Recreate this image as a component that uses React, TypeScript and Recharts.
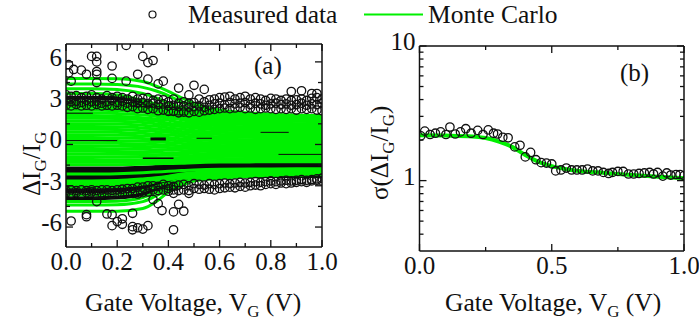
import React from "react";
import { ComposedChart, Line, Scatter, XAxis, YAxis } from "recharts";

const FONT = "'Liberation Serif', 'Times New Roman', serif";
const GREEN = "#00f000";

// panel (a): Monte Carlo curves, values at these gate voltages
const mcGrid = [0, 0.1, 0.2, 0.3, 0.35, 0.4, 0.45, 0.5, 0.6, 0.8, 1];
const mcCurves = [
  [4.8, 4.8, 4.78, 4.57, 4.25, 3.85, 3.4, 3.0, 2.5, 2.2, 2.1],
  [4.4, 4.4, 4.35, 4.15, 3.9, 3.55, 3.1, 2.8, 2.4, 2.15, 2.05],
  [4.05, 4.05, 4.0, 3.7, 3.4, 3.0, 2.7, 2.5, 2.25, 2.1, 2.0],
  [3.7, 3.7, 3.6, 3.2, 2.95, 2.7, 2.5, 2.35, 2.15, 2.05, 1.95],
  [3.1, 3.1, 3.05, 2.9, 2.75, 2.6, 2.4, 2.25, 2.05, 1.95, 1.9],
  [2.9, 2.9, 2.85, 2.7, 2.55, 2.4, 2.25, 2.1, 1.95, 1.85, 1.8],
  [2.7, 2.7, 2.65, 2.5, 2.4, 2.25, 2.1, 1.95, 1.8, 1.7, 1.65],
  [2.5, 2.5, 2.45, 2.35, 2.2, 2.05, 1.95, 1.8, 1.65, 1.55, 1.5],
  [2.3, 2.3, 2.25, 2.15, 2.05, 1.9, 1.8, 1.65, 1.5, 1.4, 1.35],
  [2.1, 2.1, 2.05, 1.95, 1.85, 1.75, 1.6, 1.5, 1.35, 1.25, 1.2],
  [1.9, 1.9, 1.88, 1.78, 1.7, 1.55, 1.45, 1.35, 1.2, 1.1, 1.05],
  [1.7, 1.7, 1.68, 1.6, 1.5, 1.4, 1.3, 1.2, 1.05, 0.95, 0.9],
  [1.5, 1.5, 1.48, 1.4, 1.32, 1.22, 1.12, 1.02, 0.88, 0.8, 0.75],
  [1.3, 1.3, 1.28, 1.2, 1.12, 1.05, 0.95, 0.85, 0.72, 0.65, 0.6],
  [1.1, 1.1, 1.08, 1.0, 0.95, 0.88, 0.78, 0.7, 0.56, 0.5, 0.45],
  [0.9, 0.9, 0.88, 0.82, 0.75, 0.7, 0.6, 0.52, 0.4, 0.33, 0.3],
  [0.7, 0.7, 0.68, 0.62, 0.58, 0.5, 0.42, 0.35, 0.24, 0.18, 0.15],
  [0.5, 0.5, 0.48, 0.44, 0.38, 0.32, 0.25, 0.18, 0.08, 0.02, 0],
  [0.3, 0.3, 0.28, 0.24, 0.2, 0.14, 0.08, 0.02, -0.08, -0.13, -0.15],
  [0.1, 0.1, 0.08, 0.04, 0.0, -0.04, -0.1, -0.15, -0.23, -0.28, -0.3],
  [-0.1, -0.1, -0.12, -0.15, -0.18, -0.22, -0.27, -0.32, -0.38, -0.43, -0.45],
  [-0.3, -0.3, -0.32, -0.34, -0.38, -0.4, -0.44, -0.48, -0.54, -0.58, -0.6],
  [-0.5, -0.5, -0.52, -0.54, -0.56, -0.6, -0.62, -0.65, -0.7, -0.73, -0.75],
  [-0.7, -0.7, -0.71, -0.73, -0.75, -0.78, -0.8, -0.82, -0.86, -0.88, -0.9],
  [-0.9, -0.9, -0.91, -0.92, -0.94, -0.96, -0.97, -0.99, -1.02, -1.04, -1.05],
  [-1.1, -1.1, -1.11, -1.12, -1.13, -1.14, -1.15, -1.16, -1.18, -1.19, -1.2],
  [-1.3, -1.3, -1.3, -1.3, -1.28, -1.27, -1.26, -1.25, -1.24, -1.24, -1.23],
  [-1.47, -1.47, -1.47, -1.44, -1.4, -1.38, -1.36, -1.32, -1.28, -1.26, -1.25],
  [-2.15, -2.15, -2.12, -2.05, -2.0, -1.95, -1.9, -1.85, -1.8, -1.78, -1.76],
  [-2.65, -2.65, -2.62, -2.5, -2.42, -2.3, -2.15, -2.05, -1.92, -1.87, -1.85],
  [-2.8, -2.8, -2.76, -2.62, -2.5, -2.38, -2.22, -2.1, -1.98, -1.95, -1.93],
  [-2.95, -2.95, -2.9, -2.75, -2.62, -2.46, -2.3, -2.18, -2.05, -2.02, -2.0],
  [-3.1, -3.1, -3.05, -2.88, -2.72, -2.55, -2.38, -2.24, -2.1, -2.07, -2.05],
  [-3.65, -3.65, -3.6, -3.35, -3.08, -2.8, -2.55, -2.35, -2.18, -2.12, -2.1],
  [-4.15, -4.15, -4.12, -3.85, -3.5, -3.12, -2.78, -2.5, -2.28, -2.17, -2.15],
  [-4.4, -4.4, -4.38, -4.15, -3.75, -3.28, -2.9, -2.58, -2.36, -2.2, -2.18],
  [-4.85, -4.85, -4.85, -4.65, -4.18, -3.45, -3.0, -2.65, -2.45, -2.25, -2.2],
];

// panel (a): the dark traces left where measured points pile up under the green
const denseTraces = [
  [-1.85, -1.85, -1.85, -1.8, -1.75, -1.7, -1.62, -1.55, -1.48, -1.46, -1.46],
  [-2.4, -2.4, -2.36, -2.25, -2.16, -2.06, -1.96, -1.88, -1.84, -1.8, -1.8],
  [-3.35, -3.35, -3.3, -3.1, -2.9, -2.65, -2.45, -2.3, -2.2, -2.18, -2.15],
  [-3.9, -3.9, -3.85, -3.6, -3.3, -2.95, -2.66, -2.44, -2.32, -2.3, -2.3],
  [3.4, 3.4, 3.35, 3.1, 2.9, 2.7, 2.5, 2.35, 2.2, 2.1, 2.05],
];
const denseWidths = [7, 6, 5, 4, 4];

// panel (a): short dark slivers between green curves [from, to, value]
const slivers = [
  [0, 0.105, 2.27], [0.26, 0.34, 2.75], [0.39, 0.47, 2.15], [0.33, 0.39, 0.4], [0.51, 0.57, 0.45],
  [0.76, 0.87, 0.88], [0.83, 1, -0.72], [0, 0.2, 0.28], [0.3, 0.42, -1.0],
];
const sliverWidths = [1, 1, 1, 3, 1, 1, 1, 1, 1.5];

// panel (a): measured points, outliers read one by one
const measuredUpper = [
  [0.01, 5.8], [0.03, 5.45], [0.06, 5.4], [0.08, 5.1], [0.1, 6.4], [0.12, 6.4], [0.12, 6.0], [0.12, 5.3],
  [0.12, 5.1], [0.12, 4.5], [0.18, 5.7], [0.18, 4.8], [0.235, 7.2], [0.235, 4.6], [0.28, 5.1], [0.3, 6.4],
  [0.32, 5.95], [0.32, 4.75], [0.34, 6.1], [0.36, 4.4], [0.38, 4.6], [0.44, 4.1], [0.48, 3.6], [0.5, 4.3],
  [0.54, 4.0], [0.88, 3.85], [0.92, 3.9], [0.96, 3.7], [0.98, 3.7], [0.01, 5.2], [0.02, 4.6],
];
const measuredLower = [
  [0.02, -5.56], [0.08, -5.1], [0.08, -5.25], [0.12, -4.15], [0.16, -5.05], [0.18, -5.1], [0.18, -5.9],
  [0.2, -5.6], [0.22, -5.4], [0.22, -5.8], [0.26, -5.0], [0.26, -5.97], [0.26, -6.2], [0.28, -6.05],
  [0.3, -6.15], [0.32, -5.9], [0.34, -4.0], [0.36, -4.3], [0.375, -4.8], [0.4, -3.2], [0.42, -3.55],
  [0.42, -4.9], [0.42, -6.2], [0.44, -4.35], [0.46, -4.85], [0.48, -3.35],
];

// panel (a): dense rows of measured points
const measuredGrid = [
  0, 0.02, 0.04, 0.06, 0.08, 0.1, 0.12, 0.14, 0.16, 0.18, 0.2, 0.22, 0.24, 0.26, 0.28, 0.3, 0.32, 0.34, 0.36, 0.38,
  0.4, 0.42, 0.44, 0.46, 0.48, 0.5, 0.52, 0.54, 0.56, 0.58, 0.6, 0.62, 0.64, 0.66, 0.68, 0.7, 0.72, 0.74, 0.76, 0.78,
  0.8, 0.82, 0.84, 0.86, 0.88, 0.9, 0.92, 0.94, 0.96, 0.98, 1,
];
const upperRow1 = [
  3.6, 3.5, 3.55, 3.4, 3.5, 3.6, 3.4, 3.3, 3.55, 3.4, 3.5, 3.4, 3.3, 3.5, 3.3, 3.35, 3.4, 3.2, 3.3, 3.25,
  3.1, 3.3, 3.0, 3.1, 3.0, 3.05, 3.3, 3.1, 3.25, 3.3, 3.4, 3.45, 3.5, 3.3, 3.4, 3.5, 3.3, 3.4, 3.3, 3.2,
  3.35, 3.3, 3.2, 3.3, 3.2, 3.25, 3.3, 3.2, 3.35, 3.4, 3.3,
];
const upperRow2 = [
  3.2, 3.1, 3.15, 3.05, 3.2, 3.1, 3.15, 3.0, 3.1, 3.2, 3.05, 3.15, 3.0, 3.1, 3.0, 3.05, 2.95, 3.0, 2.9, 2.95,
  2.8, 2.85, 2.75, 2.8, 2.7, 2.75, 2.8, 2.7, 2.85, 2.95, 3.0, 2.9, 3.05, 2.95, 3.0, 3.05, 2.9, 3.0, 2.95, 2.85,
  2.95, 3.0, 2.9, 2.95, 2.85, 2.9, 3.0, 2.85, 2.95, 2.9, 3.0,
];
const upperRow3 = [
  2.85, 2.8, 2.9, 2.8, 2.85, 2.8, 2.9, 2.8, 2.85, 2.8, 2.85, 2.8, 2.7, 2.75, 2.6, 2.65, 2.55, 2.6, 2.45, 2.5,
  2.4, 2.4, 2.3, 2.35, 2.3, 2.4, 2.35, 2.45, 2.5, 2.55, 2.6, 2.65, 2.6, 2.65, 2.7, 2.6, 2.65, 2.55, 2.6, 2.65,
  2.6, 2.55, 2.6, 2.55, 2.6, 2.5, 2.6, 2.55, 2.6, 2.5, 2.45,
];
const lowerRow1 = [
  -3.5, -3.55, -3.5, -3.6, -3.5, -3.45, -3.6, -3.55, -3.5, -3.6, -3.5, -3.6, -3.5, -3.55, -3.6, -3.5, -3.45, -3.3, -3.35, -3.3,
  -3.4, -3.3, -3.35, -3.3, -3.55, -3.2, -3.25, -3.2, -3.25, -3.3, -3.2, -3.15, -3.1, -3.15, -3.05, -3.1, -3.0, -2.95, -3.0, -2.9,
  -2.85, -2.9, -2.8, -2.85, -2.8, -2.75, -2.7, -2.75, -2.65, -2.6, -2.65,
];
const lowerRow2 = [
  -3.35, -3.3, -3.35, -3.3, -3.35, -3.3, -3.35, -3.3, -3.3, -3.35, -3.3, -3.25, -3.2, -3.2, -3.1, -3.1, -3.0, -3.0, -3.05, -2.9,
  -3.0, -3.05, -2.95, -2.9, -3.0, -2.85, -2.9, -2.95, -2.85, -2.9, -2.85, -2.8, -2.85, -2.8, -2.75, -2.8, -2.75, -2.7, -2.75, -2.7,
  -2.65, -2.7, -2.65, -2.6, -2.65, -2.6, -2.55, -2.6, -2.55, -2.5, -2.45,
];
const measuredRows = [upperRow1, upperRow2, upperRow3, lowerRow1, lowerRow2];

// panel (b): standard deviation
const sigmaGrid = [0, 0.1, 0.2, 0.25, 0.3, 0.35, 0.4, 0.45, 0.5, 0.55, 0.6, 0.7, 0.8, 0.9, 1];
const sigmaMC = [2.17, 2.16, 2.13, 2.07, 1.95, 1.78, 1.55, 1.38, 1.28, 1.22, 1.18, 1.14, 1.1, 1.07, 1.04];
const sigmaMeasured = [
  [0.005, 2.15], [0.02, 2.33], [0.04, 2.2], [0.06, 2.25], [0.08, 2.3], [0.1, 2.2], [0.115, 2.5], [0.135, 2.22],
  [0.155, 2.3], [0.175, 2.43], [0.195, 2.25], [0.22, 2.36], [0.24, 2.2], [0.26, 2.38], [0.28, 2.25], [0.295, 2.22],
  [0.315, 2.1], [0.335, 2.08], [0.36, 1.78], [0.38, 1.83], [0.4, 1.5], [0.42, 1.62], [0.44, 1.43], [0.46, 1.36],
  [0.48, 1.35], [0.5, 1.33], [0.515, 1.18], [0.535, 1.2], [0.555, 1.24], [0.575, 1.2], [0.595, 1.2], [0.615, 1.2],
  [0.635, 1.22], [0.655, 1.18], [0.675, 1.18], [0.695, 1.15], [0.715, 1.13], [0.73, 1.15], [0.75, 1.17], [0.77, 1.17],
  [0.79, 1.12], [0.81, 1.12], [0.83, 1.13], [0.85, 1.14], [0.87, 1.15], [0.885, 1.12], [0.9, 1.15], [0.92, 1.08],
  [0.935, 1.14], [0.95, 1.1], [0.97, 1.11], [0.985, 1.11], [1, 1.09],
];

const xTicksA = [0, 0.1, 0.2, 0.3, 0.4, 0.5, 0.6, 0.7, 0.8, 0.9, 1];
const xLabelsA = [0, 0.2, 0.4, 0.6, 0.8, 1];
const yTicksA = [-6, -4.5, -3, -1.5, 0, 1.5, 3, 4.5, 6];
const yLabelsA = [-6, -3, 0, 3, 6];
const xTicksB = [0, 0.25, 0.5, 0.75, 1];
const xLabelsB = [0, 0.5, 1];
const yTicksB = [0.4, 0.5, 0.6, 0.7, 0.8, 0.9, 1, 2, 3, 4, 5, 6, 7, 8, 9, 10];
const yMajorB = [1, 10];

const tableA = mcGrid.map((v, i) => {
  const row: Record<string, number> = { v };
  mcCurves.forEach((c, k) => (row["mc" + k] = c[i]));
  denseTraces.forEach((c, k) => (row["dense" + k] = c[i]));
  return row;
});
const scatterA = [
  ...measuredUpper.map(([v, y]) => ({ v, y })),
  ...measuredLower.map(([v, y]) => ({ v, y })),
  ...measuredRows.flatMap((r) => r.map((y, i) => ({ v: measuredGrid[i], y }))),
];
const tableB = sigmaGrid.map((v, i) => ({ v, mc: sigmaMC[i] }));
const scatterB = sigmaMeasured.map(([v, y]) => ({ v, y }));

const Ring = (p: any) => <circle cx={p.cx} cy={p.cy} r={4.2} fill="none" stroke="#111" strokeWidth={1.3} />;

const XTick = ({ x, y, payload, labels, side, fmt }: any) => {
  const major = labels.includes(payload.value);
  const len = major ? 7 : 4;
  return (
    <g>
      <line x1={x} x2={x} y1={y} y2={side === "bottom" ? y - len : y + len} stroke="#111" strokeWidth={1.3} />
      {side === "bottom" && major && (
        <text x={x} y={y + 23} textAnchor="middle" fontFamily={FONT} fontSize={25} fill="#111">
          {fmt(payload.value)}
        </text>
      )}
    </g>
  );
};

const YTick = ({ x, y, payload, labels, side, major, fmt }: any) => {
  const isMajor = major.includes(payload.value);
  const len = isMajor ? 7 : 4;
  return (
    <g>
      <line x1={x} x2={side === "left" ? x + len : x - len} y1={y} y2={y} stroke="#111" strokeWidth={1.3} />
      {side === "left" && labels.includes(payload.value) && (
        <text x={x - 4} y={y + 4} textAnchor="end" fontFamily={FONT} fontSize={25} fill="#111">
          {fmt(payload.value)}
        </text>
      )}
    </g>
  );
};

const GateLabel = ({ x, y }: { x: number; y: number }) => (
  <text x={x} y={y} fontFamily={FONT} fontSize={25.5} fill="#111">
    Gate Voltage, V
    <tspan fontSize={17} dy={6}>G</tspan>
    <tspan dy={-6}> (V)</tspan>
  </text>
);

const axisProps = { type: "number" as const, allowDataOverflow: true, stroke: "#111", strokeWidth: 1.5, tickLine: false, tickSize: 0, tickMargin: 0, interval: 0 as const };

function PanelA() {
  return (
    <ComposedChart width={350} height={329} data={tableA} margin={{ top: 0, right: 0, bottom: 0, left: 0 }}>
      <XAxis {...axisProps} dataKey="v" domain={[0, 1]} ticks={xTicksA} height={82}
        tick={(p: any) => <XTick {...p} labels={xLabelsA} side="bottom" fmt={(v: number) => v.toFixed(1)} />} />
      <XAxis {...axisProps} xAxisId="top" orientation="top" dataKey="v" domain={[0, 1]} ticks={xTicksA} height={44}
        tick={(p: any) => <XTick {...p} labels={xLabelsA} side="top" fmt={String} />} />
      <YAxis {...axisProps} dataKey="y" domain={[-7.45, 7.3]} ticks={yTicksA} width={66}
        tick={(p: any) => <YTick {...p} labels={yLabelsA} major={yLabelsA} side="left" fmt={String} />} />
      <YAxis {...axisProps} yAxisId="right" orientation="right" domain={[-7.45, 7.3]} ticks={yTicksA} width={28}
        tick={(p: any) => <YTick {...p} labels={yLabelsA} major={yLabelsA} side="right" fmt={String} />} />
      <Scatter data={scatterA} dataKey="y" shape={Ring} isAnimationActive={false} />
      {denseTraces.map((_, k) => (
        <Line key={k} dataKey={"dense" + k} type="monotone" stroke="#0a0a0a" strokeWidth={denseWidths[k]} dot={false} isAnimationActive={false} />
      ))}
      {mcCurves.map((_, k) => (
        <Line key={k} dataKey={"mc" + k} type="monotone" stroke={GREEN} strokeWidth={3} dot={false} isAnimationActive={false} />
      ))}
      {slivers.map(([from, to, y], k) => (
        <Line key={k} data={[{ v: from, y }, { v: to, y }]} dataKey="y" stroke="#0a0a0a" strokeWidth={sliverWidths[k]} dot={false} isAnimationActive={false} />
      ))}
      <text x={254} y={74} fontFamily={FONT} fontSize={25} fill="#111">(a)</text>
      <GateLabel x={85} y={311} />
      <text transform="translate(40,196) rotate(-90)" fontFamily={FONT} fontSize={25} fill="#111">
        ΔI
        <tspan fontSize={17} dy={6}>G</tspan>
        <tspan dy={-6}>/I</tspan>
        <tspan fontSize={17} dy={6}>G</tspan>
      </text>
    </ComposedChart>
  );
}

function PanelB() {
  return (
    <ComposedChart width={349} height={329} data={tableB} margin={{ top: 0, right: 0, bottom: 0, left: 0 }}>
      <XAxis {...axisProps} dataKey="v" domain={[0, 1]} ticks={xTicksB} height={78}
        tick={(p: any) => <XTick {...p} labels={xLabelsB} side="bottom" fmt={(v: number) => v.toFixed(1)} />} />
      <XAxis {...axisProps} xAxisId="top" orientation="top" dataKey="v" domain={[0, 1]} ticks={xTicksB} height={46}
        tick={(p: any) => <XTick {...p} labels={xLabelsB} side="top" fmt={String} />} />
      <YAxis {...axisProps} dataKey="y" scale="log" domain={[0.3, 10]} ticks={yTicksB} width={69.5}
        tick={(p: any) => <YTick {...p} labels={yMajorB} major={yMajorB} side="left" fmt={String} />} />
      <YAxis {...axisProps} yAxisId="right" orientation="right" scale="log" domain={[0.3, 10]} ticks={yTicksB} width={15}
        tick={(p: any) => <YTick {...p} labels={yMajorB} major={yMajorB} side="right" fmt={String} />} />
      <Scatter data={scatterB} dataKey="y" shape={Ring} isAnimationActive={false} />
      <Line dataKey="mc" type="monotone" stroke={GREEN} strokeWidth={4} dot={false} isAnimationActive={false} />
      <text x={270} y={81} fontFamily={FONT} fontSize={25} fill="#111">(b)</text>
      <GateLabel x={95} y={311} />
      <text transform="translate(38,200) rotate(-90)" fontFamily={FONT} fontSize={25} fill="#111">
        σ(ΔI
        <tspan fontSize={17} dy={6}>G</tspan>
        <tspan dy={-6}>/I</tspan>
        <tspan fontSize={17} dy={6}>G</tspan>
        <tspan dy={-6}>)</tspan>
      </text>
    </ComposedChart>
  );
}

export default function App() {
  return (
    <div style={{ position: "absolute", left: 0, top: 0, width: 699, height: 329, background: "#fff", overflow: "hidden" }}>
      <div style={{ position: "absolute", left: 0, top: 0 }}><PanelA /></div>
      <div style={{ position: "absolute", left: 350, top: 0 }}><PanelB /></div>
      <svg width={699} height={30} style={{ position: "absolute", left: 0, top: 0 }}>
        <circle cx={152.5} cy={14.5} r={3.5} fill="none" stroke="#111" strokeWidth={1.2} />
        <text x={188} y={23} fontFamily={FONT} fontSize={25.5} fill="#111">Measured data</text>
        <line x1={364} x2={423} y1={14.5} y2={14.5} stroke={GREEN} strokeWidth={2} />
        <text x={428} y={23} fontFamily={FONT} fontSize={25.5} fill="#111">Monte Carlo</text>
      </svg>
    </div>
  );
}
